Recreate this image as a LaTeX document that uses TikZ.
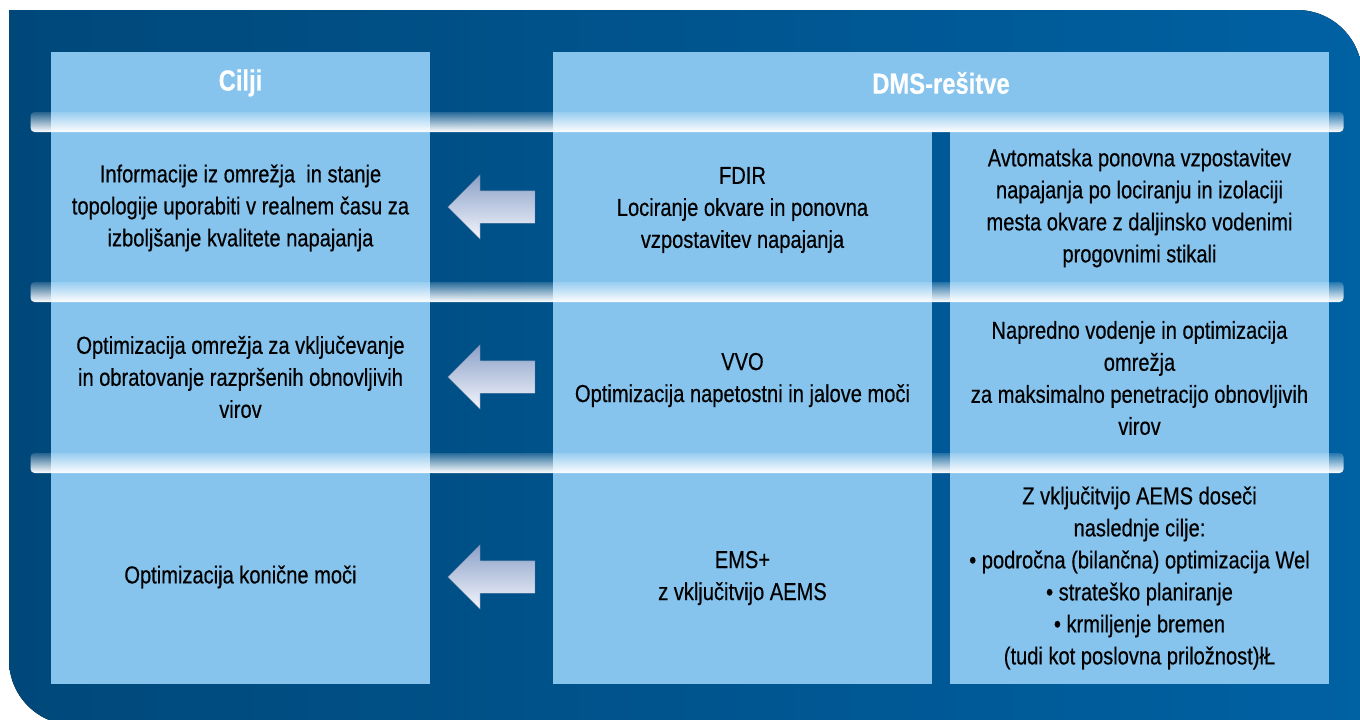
\documentclass[tikz,border=0pt]{standalone}
\usepackage{fontspec}
\setmainfont{Liberation Sans}[FakeStretch=0.82, FakeBold=0.4]
\usetikzlibrary{shapes.arrows,fadings}

\definecolor{bgleft}{RGB}{0,72,122}
\definecolor{bgright}{RGB}{0,97,163}
\definecolor{panel}{RGB}{134,196,238}
\definecolor{arrowtop}{RGB}{140,160,200}
\definecolor{arrowbot}{RGB}{243,246,252}

\tikzfading[name=barfade, top color=transparent!85, middle color=transparent!20, bottom color=transparent!0]

\begin{document}
\begin{tikzpicture}[x=1pt, y=-1pt,
	cell/.style={align=center, font=\fontsize{24.5}{32}\selectfont, text=black, inner sep=0pt},
	head/.style={font=\fontsize{29}{32}\selectfont\bfseries, text=white, inner sep=0pt},
	blockarrow/.style={single arrow, shape border rotate=180, minimum height=87pt, minimum width=64pt, single arrow head extend=16pt, single arrow tip angle=90, inner xsep=0pt, inner ysep=16pt, top color=arrowtop, bottom color=arrowbot, draw=arrowtop!85!black, line width=0.3pt},
	bar/.style={fill=white, path fading=barfade, rounded corners=4pt}]
	\useasboundingbox (0,0) rectangle (1360,720);
	% background frame
	\fill[left color=bgleft, right color=bgright, rounded corners=65pt] (9,10) rectangle (1362,725) [sharp corners] (9,10) rectangle (120,120) (1250,600) rectangle (1362,725);
	% columns
	\fill[panel] (51,52) rectangle (430,684);
	\fill[panel] (553,52) rectangle (932,684);
	\fill[panel] (950,52) rectangle (1329,684);
	\fill[panel] (932,52) rectangle (950,132);
	% headings
	\node[head] (hgoal) at (240.5,83) {Cilji};
	\node[head] (hdms) at (941,83) {DMS-rešitve};
	% rows
	\node[cell] (goal1) at (240.5,208) {Informacije iz omrežja~ in stanje\\topologije uporabiti v realnem času za\\izboljšanje kvalitete napajanja};
	\node[cell] (sol1) at (742.5,210) {FDIR\\Lociranje okvare in ponovna\\vzpostavitev napajanja};
	\node[cell] (desc1) at (1139.5,208) {Avtomatska ponovna vzpostavitev\\napajanja po lociranju in izolaciji\\mesta okvare z daljinsko vodenimi\\progovnimi stikali};
	\node[cell] (goal2) at (240.5,377) {Optimizacija omrežja za vključevanje\\in obratovanje razpršenih obnovljivih\\virov};
	\node[cell] (sol2) at (742.5,380) {VVO\\Optimizacija napetostni in jalove moči};
	\node[cell] (desc2) at (1139.5,378) {Napredno vodenje in optimizacija\\omrežja\\za maksimalno penetracijo obnovljivih\\virov};
	\node[cell] (goal3) at (240.5,577) {Optimizacija konične moči};
	\node[cell] (sol3) at (742.5,578) {EMS+\\z vključitvijo AEMS};
	\node[cell] (desc3) at (1139.5,578) {Z vključitvijo AEMS doseči\\naslednje cilje:\\• področna (bilančna) optimizacija Wel\\• strateško planiranje\\• krmiljenje bremen\\(tudi kot poslovna priložnost)łŁ};
	% arrows
	\node[blockarrow] (arr1) at (499.5,207) {};
	\node[blockarrow] (arr2) at (499.5,377) {};
	\node[blockarrow] (arr3) at (499.5,577) {};
	% glossy bars
	\foreach \y in {112,282,453}
		\fill[bar] (32,\y) rectangle (1348,\y+20);
\end{tikzpicture}
\end{document}
